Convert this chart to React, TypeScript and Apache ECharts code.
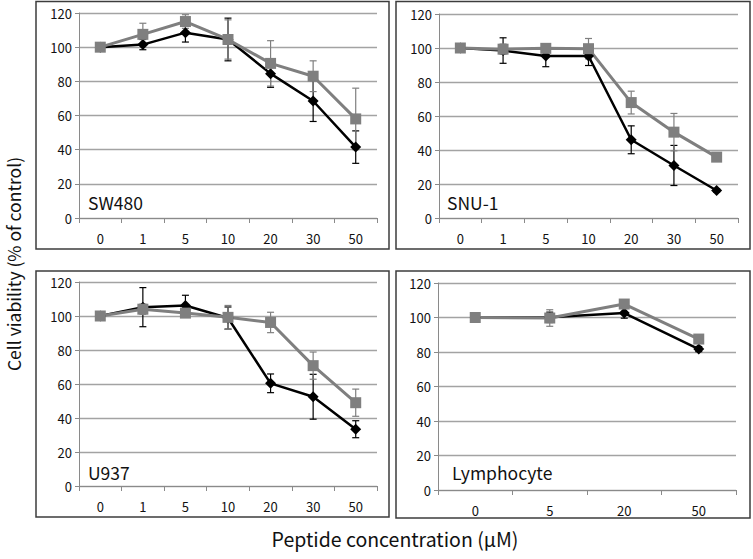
import React, { useEffect, useRef } from "react";
import * as echarts from "echarts";

// ---- data ----
const concentrations7 = ["0", "1", "5", "10", "20", "30", "50"];
const concentrations4 = ["0", "5", "20", "50"];
const yTicks = [0, 20, 40, 60, 80, 100, 120];

const sw480Black = [100, 101.5, 108.5, 104.5, 84.5, 68.5, 41.5];
const sw480BlackErr = [0, 3, 5.5, 12.5, 8, 12, 9.5];
const sw480Gray = [100, 107.5, 115, 104.5, 90.5, 83, 58];
const sw480GrayErr = [0, 6.5, 4, 11.5, 13.3, 9, 18];

const snu1Black = [100, 98.5, 95.3, 95.3, 46, 30.9, 16.2];
const snu1BlackErr = [0, 7.5, 6.3, 5.6, 8.2, 11.8, 1];
const snu1Gray = [100, 99.3, 99.8, 99.6, 67.9, 50.5, 35.8];
const snu1GrayErr = [0, 3, 2, 6, 6.7, 11, 1];

const u937Black = [100, 105.2, 106.2, 98.8, 60.4, 52.5, 33.4];
const u937BlackErr = [0, 11.5, 6, 6.5, 5.5, 13.2, 5];
const u937Gray = [100, 104, 101.7, 99.2, 96.2, 70.8, 49];
const u937GrayErr = [0, 3, 2, 7, 6, 8, 8];

const lymphBlack = [100, 100.1, 102.6, 81.7];
const lymphBlackErr = [1.5, 3, 3, 1.5];
const lymphGray = [100, 99.7, 107.8, 87.5];
const lymphGrayErr = [1.5, 4.8, 1.5, 1.5];

const panelNames = ["SW480", "SNU-1", "U937", "Lymphocyte"];
const yTitle = "Cell viability (% of control)";
const xTitle = "Peptide concentration (μM)";

const FONT = "'Noto Sans CJK KR', 'Noto Sans', sans-serif";
const BLACK = "#000000";
const GRAY = "#7f7f7f";

function errData(means: number[], errs: number[]) {
  return means.map((m, i) => [i, m - errs[i], m + errs[i]]);
}

function errorSeries(idx: number, means: number[], errs: number[], color: string) {
  return {
    type: "custom",
    xAxisIndex: idx,
    yAxisIndex: idx,
    z: 1,
    data: errData(means, errs),
    renderItem: (params: any, api: any) => {
      const x = api.value(0);
      const lo = api.coord([x, api.value(1)]);
      const hi = api.coord([x, api.value(2)]);
      const w = 3.5;
      const style = { stroke: color, lineWidth: 1.2 };
      return {
        type: "group",
        children: [
          { type: "line", shape: { x1: lo[0], y1: lo[1], x2: hi[0], y2: hi[1] }, style },
          { type: "line", shape: { x1: hi[0] - w, y1: hi[1], x2: hi[0] + w, y2: hi[1] }, style },
          { type: "line", shape: { x1: lo[0] - w, y1: lo[1], x2: lo[0] + w, y2: lo[1] }, style },
        ],
      };
    },
  };
}

function lineSeries(idx: number, data: number[], color: string, symbol: string, size: number, width: number) {
  return {
    type: "line",
    xAxisIndex: idx,
    yAxisIndex: idx,
    z: 3,
    data,
    symbol,
    symbolSize: size,
    lineStyle: { color, width },
    itemStyle: { color },
  };
}

export default function App() {
  const ref = useRef<HTMLDivElement>(null);

  useEffect(() => {
    document.body.style.margin = "0";
    const chart = echarts.init(ref.current!, null, { renderer: "svg" });

    const grids = [
      { left: 79, top: 13, width: 298, height: 205 },
      { left: 439, top: 14, width: 299, height: 204 },
      { left: 79, top: 282, width: 298, height: 204 },
      { left: 438, top: 283, width: 298, height: 207 },
    ];
    const cats = [concentrations7, concentrations7, concentrations7, concentrations4];

    const xAxis = grids.map((_, i) => ({
      type: "category",
      gridIndex: i,
      data: cats[i],
      boundaryGap: true,
      axisLine: { lineStyle: { color: "#8a8a8a", width: 1 } },
      axisTick: { show: true, length: 5, lineStyle: { color: "#8a8a8a" } },
      axisLabel: { color: "#111", fontSize: 13, fontFamily: FONT, margin: 14 },
      splitLine: { show: false },
    }));

    const yAxis = grids.map((_, i) => ({
      type: "value",
      gridIndex: i,
      min: yTicks[0],
      max: yTicks[yTicks.length - 1],
      interval: 20,
      axisLine: { show: true, lineStyle: { color: "#8a8a8a", width: 1 } },
      axisTick: { show: true, length: 4, lineStyle: { color: "#8a8a8a" } },
      axisLabel: { color: "#111", fontSize: 13, fontFamily: FONT, margin: 7 },
      splitLine: { show: true, lineStyle: { color: "#a3a3a3", width: 1.3 } },
    }));

    const blacks = [sw480Black, snu1Black, u937Black, lymphBlack];
    const blackErrs = [sw480BlackErr, snu1BlackErr, u937BlackErr, lymphBlackErr];
    const grays = [sw480Gray, snu1Gray, u937Gray, lymphGray];
    const grayErrs = [sw480GrayErr, snu1GrayErr, u937GrayErr, lymphGrayErr];

    const series: any[] = [];
    for (let i = 0; i < 4; i++) {
      series.push(errorSeries(i, blacks[i], blackErrs[i], BLACK));
      series.push(errorSeries(i, grays[i], grayErrs[i], GRAY));
      series.push(lineSeries(i, blacks[i], BLACK, "diamond", 11, 2.5));
      series.push(lineSeries(i, grays[i], GRAY, "rect", 11, 3));
    }

    const boxes = [
      { x: 36, y: 1.5, width: 353, height: 247.5 },
      { x: 396, y: 1.5, width: 354, height: 247.5 },
      { x: 36, y: 271, width: 353, height: 246 },
      { x: 396, y: 271, width: 354, height: 247 },
    ];
    const labelPos = [
      { x: 88, y: 202 },
      { x: 447, y: 202 },
      { x: 88, y: 472 },
      { x: 452, y: 472 },
    ];

    const graphic: any[] = [];
    boxes.forEach((b) =>
      graphic.push({
        type: "rect",
        shape: b,
        style: { fill: "none", stroke: "#3c3c3c", lineWidth: 1.5 },
        silent: true,
      })
    );
    labelPos.forEach((p, i) =>
      graphic.push({
        type: "text",
        x: p.x,
        y: p.y,
        style: {
          text: panelNames[i],
          fontSize: 17.5,
          fontFamily: FONT,
          fill: "#111",
          textVerticalAlign: "middle",
          textAlign: "left",
        },
        z: 10,
      })
    );
    graphic.push({
      type: "text",
      x: 13,
      y: 264,
      rotation: Math.PI / 2,
      style: {
        text: yTitle,
        fontSize: 17.5,
        fontFamily: FONT,
        fill: "#111",
        textAlign: "center",
        textVerticalAlign: "middle",
      },
    });
    graphic.push({
      type: "text",
      x: 395,
      y: 538,
      style: {
        text: xTitle,
        fontSize: 19.5,
        fontFamily: FONT,
        fill: "#111",
        textAlign: "center",
        textVerticalAlign: "middle",
      },
    });

    chart.setOption({
      animation: false,
      backgroundColor: "#ffffff",
      grid: grids,
      xAxis,
      yAxis,
      series,
      graphic,
    });

    return () => chart.dispose();
  }, []);

  return <div ref={ref} style={{ width: 753, height: 559 }} />;
}
